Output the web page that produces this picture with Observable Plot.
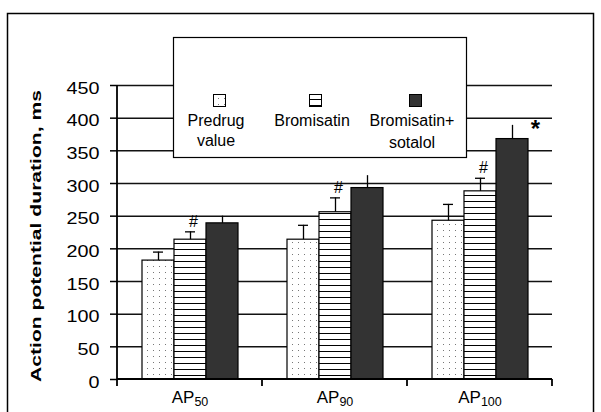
<!DOCTYPE html>
<html><head><meta charset="utf-8">
<script src="https://cdn.jsdelivr.net/npm/d3@7"></script>
<script src="https://cdn.jsdelivr.net/npm/@observablehq/plot@0.6"></script>
<style>
html,body{margin:0;padding:0;background:#fff;}
#chart{position:relative;width:601px;height:412px;overflow:hidden;}
#chart svg{display:block;}
</style></head><body>
<svg width="0" height="0" style="position:absolute">
<defs>
<pattern id="dots" patternUnits="userSpaceOnUse" width="6" height="6">
<rect width="6" height="6" fill="#fff"/><rect x="2" y="2" width="1" height="1" fill="#777"/>
</pattern>
<pattern id="hlines" patternUnits="userSpaceOnUse" width="6" height="6">
<rect width="6" height="6" fill="#fff"/><rect x="0" y="3" width="6" height="1" fill="#000"/>
</pattern>
</defs></svg>
<div id="chart"></div>
<script>
const categories = ["AP50", "AP90", "AP100"];
const seriesNames = ["Predrug value", "Bromisatin", "Bromisatin+ sotalol"];
const predrug = [182, 214, 243];
const predrugErr = [13, 22, 25];
const bromisatin = [214, 256, 288];
const bromisatinErr = [12, 22, 20];
const sotalol = [239, 293, 368];
const sotalolErr = [11, 19, 21];
const bromisatinMarks = ["#", "#", "#"];
const sotalolMarks = ["", "", "*"];
const yTicks = [0, 50, 100, 150, 200, 250, 300, 350, 400, 450];
const seriesFills = ["url(#dots)", "url(#hlines)", "#333333"];
const legendLines = [["Predrug", "value"], ["Bromisatin"], ["Bromisatin+", "sotalol"]];
const yLabel = "Action potential duration, ms";

const rows = [];
categories.forEach((c, i) => {
  rows.push({cat: c, s: seriesNames[0], v: predrug[i], e: predrugErr[i], mark: ""});
  rows.push({cat: c, s: seriesNames[1], v: bromisatin[i], e: bromisatinErr[i], mark: bromisatinMarks[i]});
  rows.push({cat: c, s: seriesNames[2], v: sotalol[i], e: sotalolErr[i], mark: sotalolMarks[i]});
});

const font = "Arial, 'Liberation Sans', Helvetica, sans-serif";
const plot = Plot.plot({
  width: 601, height: 412,
  marginLeft: 116, marginRight: 49, marginTop: 85, marginBottom: 33,
  style: {fontFamily: font, background: "transparent", color: "#000", overflow: "visible"},
  fx: {domain: categories, padding: 0, label: null},
  x: {domain: seriesNames, paddingInner: 0, paddingOuter: 0.75, axis: null},
  y: {domain: [0, 450], label: null},
  color: {domain: seriesNames, range: seriesFills},
  marks: [
    Plot.gridY(yTicks.filter(t => t > 0), {stroke: "#111", strokeOpacity: 1, strokeWidth: 1.5}),
    Plot.barY(rows, {fx: "cat", x: "s", y: "v", fill: "s", stroke: "#000", strokeWidth: 1.2}),
    Plot.ruleX(rows, {fx: "cat", x: "s", y1: "v", y2: d => d.v + d.e, stroke: "#000", strokeWidth: 1.3}),
    Plot.tickY(rows.filter(d => d.s !== seriesNames[2]), {fx: "cat", x: "s", y: d => d.v + d.e, insetLeft: 11, insetRight: 11, stroke: "#000", strokeWidth: 1.3}),
    Plot.text(rows.filter(d => d.mark === "#"), {fx: "cat", x: "s", y: d => d.v + d.e, text: "mark", dy: -10, dx: 3, fontSize: 16}),
    Plot.text(rows.filter(d => d.mark === "*"), {fx: "cat", x: "s", y: d => d.v + d.e, text: "mark", dx: 23, dy: 4, fontSize: 24, fontWeight: "bold"}),
    Plot.axisY(yTicks, {tickSize: 7, tickPadding: 11, fontSize: 16.5, label: null, strokeWidth: 1.5}),
    Plot.axisFx({anchor: "bottom", tickSize: 0, tickPadding: 11, fontSize: 17, label: null})
  ]
});
document.getElementById("chart").appendChild(plot);

const svg = d3.select(plot);
const fx = plot.scale("fx"), y = plot.scale("y");
const y0 = y.apply(0), yTop = y.apply(450);
const xs = categories.map(c => fx.apply(c));
const xEnd = xs[xs.length - 1] + fx.bandwidth;

// axis lines and group ticks
const axisG = svg.append("g").attr("stroke", "#000").attr("stroke-width", 1.8);
axisG.append("line").attr("x1", xs[0]).attr("x2", xs[0]).attr("y1", yTop).attr("y2", y0);
axisG.append("line").attr("x1", xs[0]).attr("x2", xEnd).attr("y1", y0).attr("y2", y0);
xs.concat([xEnd]).forEach(b => axisG.append("line").attr("x1", b).attr("x2", b).attr("y1", y0).attr("y2", y0 + 7));

// subscripts in category labels
svg.selectAll("text").filter(function() { return categories.includes(this.textContent); }).each(function() {
  const c = this.textContent;
  const m = c.match(/^(\D+)(\d+)$/);
  const t = d3.select(this);
  t.text(m[1]);
  t.append("tspan").attr("font-size", 12.5).attr("dy", 3).text(m[2]);
});

// y tick labels: wide glyphs, slightly lower
const yLab = svg.select('g[aria-label="y-axis tick label"]');
if (!yLab.empty()) {
  yLab.attr("transform", (yLab.attr("transform") || "") + " translate(0,3)");
  yLab.selectAll("text").each(function() {
    d3.select(this).attr("textLength", this.textContent.length * 11).attr("lengthAdjust", "spacingAndGlyphs");
  });
}

// y axis title
svg.append("text")
  .attr("transform", `translate(41,${(yTop + y0) / 2 + 4}) rotate(-90)`)
  .attr("text-anchor", "middle")
  .attr("font-family", font).attr("font-weight", "bold").attr("font-size", 15.5)
  .attr("textLength", 292).attr("lengthAdjust", "spacingAndGlyphs")
  .text(yLabel);

// legend box
const lg = svg.append("g");
lg.append("rect").attr("x", 173.5).attr("y", 37.5).attr("width", 293).attr("height", 120)
  .attr("fill", "#fff").attr("stroke", "#000").attr("stroke-width", 1.2);
const colX = [216, 312, 412];
seriesNames.forEach((s, i) => {
  lg.append("rect").attr("x", colX[i] - 2.5).attr("y", 94.5).attr("width", 12).attr("height", 12)
    .attr("fill", seriesFills[i]).attr("stroke", "#000").attr("stroke-width", 1);
  legendLines[i].forEach((line, j) => {
    lg.append("text").attr("x", colX[i]).attr("y", 126 + j * 20 + (i === 2 ? j * 2 : 0))
      .attr("text-anchor", "middle").attr("font-family", font).attr("font-size", 16)
      .text(line);
  });
});

// outer border
svg.append("rect").attr("x", 7.5).attr("y", 13.5).attr("width", 586).attr("height", 420)
  .attr("fill", "none").attr("stroke", "#000").attr("stroke-width", 1.5);
</script>
</body></html>
